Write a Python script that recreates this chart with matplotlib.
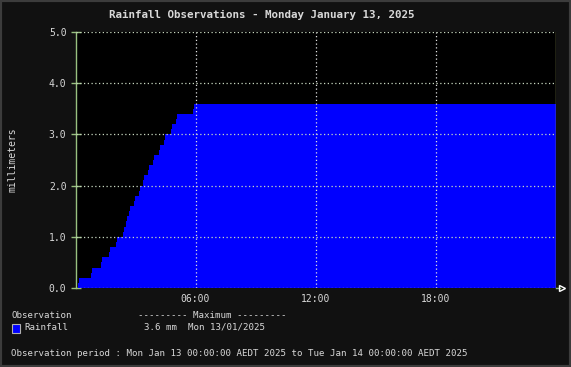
import matplotlib
matplotlib.use("Agg")
import matplotlib.pyplot as plt
from matplotlib.patches import Rectangle

# ---- data ----
step_hours = [0.125, 0.175, 0.775, 0.825, 1.275, 1.325, 1.675, 1.725, 2.025, 2.075,
              2.375, 2.425, 2.525, 2.575, 2.675, 2.725, 2.925, 2.975, 3.175, 3.225,
              3.375, 3.425, 3.625, 3.675, 3.875, 3.925, 4.175, 4.225, 4.425, 4.475,
              4.775, 4.825, 5.025, 5.075, 5.875, 5.925]
step_values = [0.1, 0.2, 0.3, 0.4, 0.5, 0.6, 0.7, 0.8, 0.9, 1.0,
               1.1, 1.2, 1.3, 1.4, 1.5, 1.6, 1.7, 1.8, 1.9, 2.0,
               2.1, 2.2, 2.3, 2.4, 2.5, 2.6, 2.7, 2.8, 2.9, 3.0,
               3.1, 3.2, 3.3, 3.4, 3.5, 3.6]
x_ticks = [6, 12, 18]
x_tick_labels = ["06:00", "12:00", "18:00"]
y_ticks = [0, 1, 2, 3, 4, 5]
y_tick_labels = ["0.0", "1.0", "2.0", "3.0", "4.0", "5.0"]
title = "Rainfall Observations - Monday January 13, 2025"
max_value_text = "3.6 mm  Mon 13/01/2025"
period_text = "Observation period : Mon Jan 13 00:00:00 AEDT 2025 to Tue Jan 14 00:00:00 AEDT 2025"

W, H = 571, 367
BG = "#111111"
TXT = "#d8d8d8"
GREEN = "#98c080"
GRID = "#c8d8c0"
MONO = "DejaVu Sans Mono"

fig = plt.figure(figsize=(W / 100, H / 100), dpi=100, facecolor=BG)
fig.patches.append(Rectangle((0, 0), 1, 1, transform=fig.transFigure,
                             fill=False, edgecolor="#3c3c3c", linewidth=3))

x0, x1, ytop, ybot = 75.5, 555.5, 32, 288
ax = fig.add_axes([x0 / W, (H - ybot) / H, (x1 - x0) / W, (ybot - ytop) / H])
ax.set_facecolor("black")

xs = [0] + step_hours + [24]
ys = [0] + step_values + [step_values[-1]]
ax.fill_between(xs, ys, 0, step="post", color="#0000ff", linewidth=0, zorder=2)

ax.set_xlim(0, 24)
ax.set_ylim(0, 5)

# grid
for y in y_ticks[1:]:
    ax.axhline(y, color=GRID, linestyle=(0, (1, 2)), linewidth=0.9, zorder=3)
for x in x_ticks:
    ax.axvline(x, color="#e0e0e0", linestyle=(0, (1, 2)), linewidth=0.9, zorder=3)
ax.axhline(0, color="#e0e0e0", linestyle=(0, (1, 2)), linewidth=0.9, zorder=3)
ax.axvline(24, color="#a0a860", linewidth=1.0, zorder=3)

for s in ["top", "right", "bottom"]:
    ax.spines[s].set_visible(False)
ax.spines["left"].set_color(GREEN)
ax.spines["left"].set_linewidth(1.0)

ax.set_yticks(y_ticks)
ax.set_yticklabels(y_tick_labels, family=MONO, fontsize=7, color=TXT)
ax.set_xticks(x_ticks)
ax.set_xticklabels(x_tick_labels, family=MONO, fontsize=7, color=TXT)
ax.tick_params(axis="y", direction="inout", length=7, width=1, color=GREEN, pad=3)
ax.tick_params(axis="x", length=0, pad=4)

# arrow at end of x axis
ax.plot([24, 24.2], [0, 0], color=GREEN, linewidth=1, clip_on=False, zorder=4)
ax.plot([24.3], [0], marker=">", markersize=5, markerfacecolor="none",
        markeredgecolor="white", markeredgewidth=1, clip_on=False, zorder=4)

fig.text(13 / W, 1 - 160 / H, "millimeters", family=MONO, fontsize=7, color=TXT,
         rotation=90, ha="center", va="center")

fig.text(261.5 / W, 1 - 15 / H, title, family=MONO, fontsize=7.8, fontweight="bold",
         color=TXT, ha="center", va="center")

fs = 6.6
fig.text(11 / W, 1 - 315 / H, "Observation", family=MONO, fontsize=fs, color=TXT, va="center")
fig.text(138 / W, 1 - 315 / H, "--------- Maximum ---------", family=MONO, fontsize=fs,
         color=TXT, va="center")
fig.patches.append(Rectangle((12 / W, 1 - 332.5 / H), 8 / W, 9 / H, transform=fig.transFigure,
                             facecolor="#0000ff", edgecolor="#b0b0b0", linewidth=0.8))
fig.text(24 / W, 1 - 327 / H, "Rainfall", family=MONO, fontsize=fs, color=TXT, va="center")
fig.text(144 / W, 1 - 327 / H, max_value_text, family=MONO, fontsize=fs, color=TXT, va="center")
fig.text(11 / W, 1 - 353 / H, period_text, family=MONO, fontsize=fs, color=TXT, va="center")

fig.savefig("out.png", dpi=100, facecolor=BG)
